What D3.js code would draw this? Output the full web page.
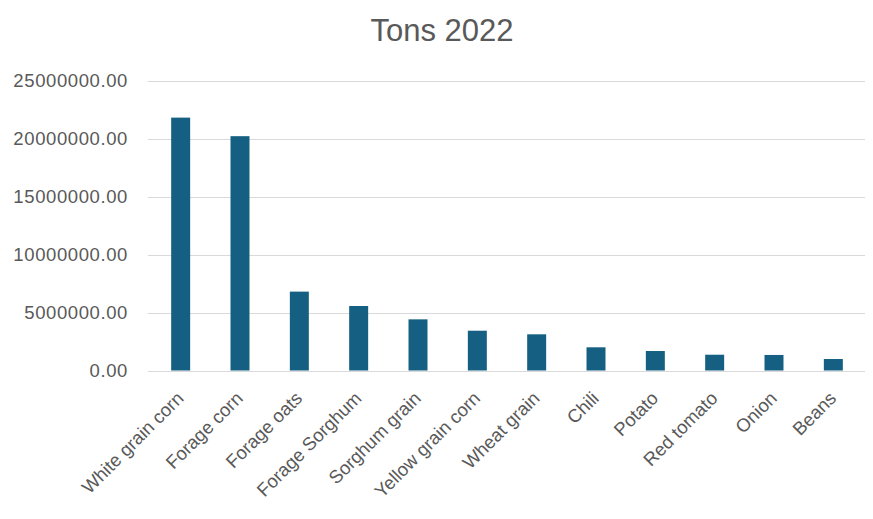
<!DOCTYPE html>
<html>
<head>
<meta charset="utf-8">
<script src="https://cdn.jsdelivr.net/npm/d3@7"></script>
<style>
  html, body { margin: 0; padding: 0; background: #fff; }
  svg { display: block; font-family: "Liberation Sans", Arial, sans-serif; }
</style>
</head>
<body>
<svg id="chart" width="873" height="519"></svg>
<script>
const categories = ["White grain corn", "Forage corn", "Forage oats", "Forage Sorghum", "Sorghum grain",
  "Yellow grain corn", "Wheat grain", "Chili", "Potato", "Red tomato", "Onion", "Beans"];
const tons2022 = [21800000, 20200000, 6800000, 5560000, 4410000, 3430000, 3120000, 2000000, 1680000, 1360000, 1340000, 990000];
const yTicks = [0, 5000000, 10000000, 15000000, 20000000, 25000000];
const chartTitle = "Tons 2022";

(function () {
const svg = d3.select("#chart");
const W = 873, H = 519;
const gridLeft = 148, gridRight = 865;
const plotTop = 80.5, plotBottom = 370.5;

const x = d3.scaleBand().domain(categories).range([151, 863]).paddingInner(0.68).paddingOuter(0.34);
const y = d3.scaleLinear().domain([0, 25000000]).range([plotBottom, plotTop]);

svg.append("rect").attr("width", W).attr("height", H).attr("fill", "#fff");

// title
svg.append("text")
  .attr("x", 442).attr("y", 41)
  .attr("text-anchor", "middle")
  .attr("font-size", 31)
  .attr("fill", "#595959")
  .text(chartTitle);

// gridlines
svg.append("g").selectAll("line").data(yTicks).join("line")
  .attr("x1", gridLeft).attr("x2", gridRight)
  .attr("y1", d => Math.round(y(d)) + 0.5).attr("y2", d => Math.round(y(d)) + 0.5)
  .attr("stroke", "#d9d9d9").attr("stroke-width", 1);

// y axis labels
const yAxis = d3.axisLeft(y).tickValues(yTicks).tickFormat(d => d3.format(".2f")(d)).tickSize(0).tickPadding(0);
const yg = svg.append("g").attr("transform", `translate(128,0)`).call(yAxis);
yg.select(".domain").remove();
yg.selectAll("text")
  .attr("font-size", 18.5)
  .attr("font-family", "Liberation Sans, Arial, sans-serif")
  .attr("fill", "#595959")
  .attr("letter-spacing", "0.6px");

// bars
svg.append("g").selectAll("rect").data(categories).join("rect")
  .attr("x", d => x(d))
  .attr("width", x.bandwidth())
  .attr("y", (d, i) => y(tons2022[i]))
  .attr("height", (d, i) => y(0) - y(tons2022[i]))
  .attr("fill", "#156082");

// x axis labels
const xAxis = d3.axisBottom(x).tickSize(0).tickPadding(0);
const xg = svg.append("g").attr("transform", `translate(0,${plotBottom})`).call(xAxis);
xg.select(".domain").remove();
xg.selectAll("text")
  .attr("font-size", 18.5)
  .attr("font-family", "Liberation Sans, Arial, sans-serif")
  .attr("fill", "#595959")
  .attr("text-anchor", "end")
  .attr("dy", null)
  .attr("y", 0)
  .attr("transform", "translate(4,29) rotate(-45)");
})();
</script>
</body>
</html>
